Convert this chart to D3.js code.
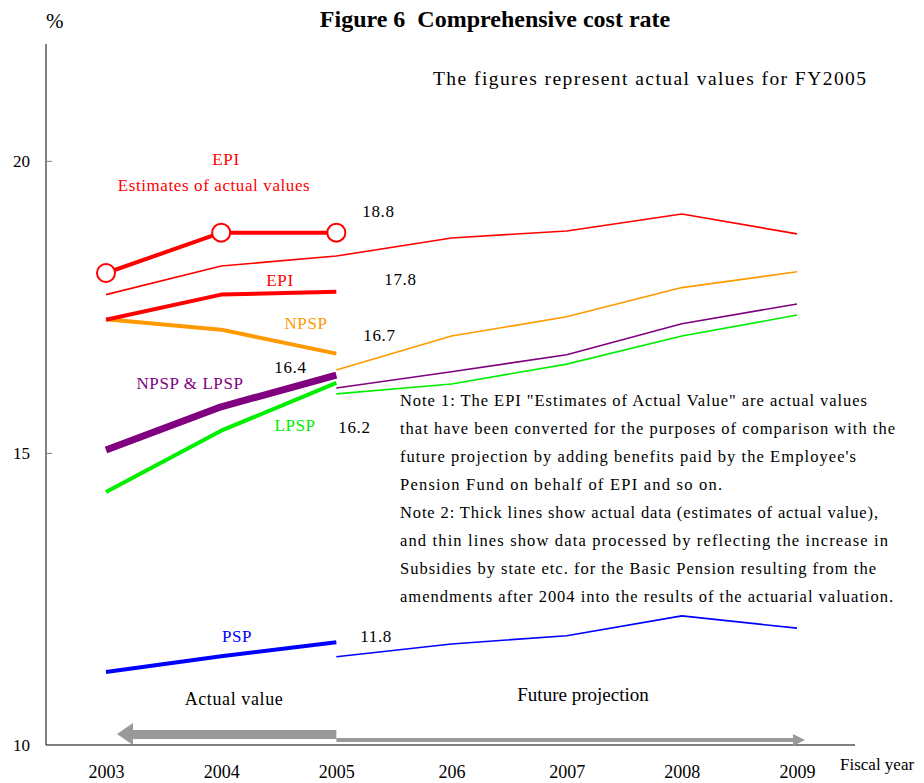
<!DOCTYPE html>
<html>
<head>
<meta charset="utf-8">
<script src="https://cdn.jsdelivr.net/npm/d3@7"></script>
<style>
  body { margin: 0; background: #fff; }
  text { font-family: 'Liberation Serif', serif; }
</style>
</head>
<body>
<div class="canvas"></div>
<script>
// categories (the "206" label is as printed in the source)
const years = ["2003", "2004", "2005", "206", "2007", "2008", "2009"];
const yTicks = [10, 15, 20];

// thick lines: actual data 2003-2005
const epiEstimate = [18.08, 18.77, 18.77];
const epiActual = [17.28, 17.71, 17.76];
const npspActual = [17.29, 17.11, 16.70];
const npspLpspActual = [15.05, 15.79, 16.33];
const lpspActual = [14.33, 15.38, 16.20];
const pspActual = [11.25, 11.52, 11.76];

// thin lines: processed / projection
const epiProj = [17.71, 18.20, 18.37, 18.68, 18.80, 19.09, 18.75];   // 2003-2009
const npspProj = [16.42, 17.00, 17.33, 17.83, 18.10];               // 2005-2009
const npspLpspProj = [16.11, 16.39, 16.68, 17.21, 17.55];
const lpspProj = [16.01, 16.18, 16.52, 17.00, 17.36];
const pspProj = [11.51, 11.73, 11.87, 12.21, 12.00];

const valueLabels = ["18.8", "17.8", "16.7", "16.4", "16.2", "11.8"];

const notes = [
  "Note 1: The EPI \"Estimates of Actual Value\" are actual values",
  "that have been converted for the purposes of comparison with the",
  "future projection by adding benefits paid by the Employee's",
  "Pension Fund on behalf of EPI and so on.",
  "Note 2: Thick lines show actual data (estimates of actual value),",
  "and thin lines show data processed by reflecting the increase in",
  "Subsidies by state etc. for the Basic Pension resulting from the",
  "amendments after 2004 into the results of the actuarial valuation."
];

const FONT = 'Liberation Serif';
const width = 924, height = 783;
const svg = d3.select('.canvas').append('svg')
    .attr('width', width)
    .attr('height', height)
    .attr('font-family', FONT);

const x = d3.scalePoint().domain(years).range([106, 797]);
const y = d3.scaleLinear().domain([10, 22]).range([745, 44]);

// axes
svg.append('line')
  .attr('x1', 46).attr('x2', 46)
  .attr('y1', y(22)).attr('y2', y(10))
  .attr('stroke', '#808080').attr('stroke-width', 2);

const yAxis = svg.append('g')
  .attr('transform', 'translate(46,0)')
  .call(d3.axisLeft(y).tickValues(yTicks).tickSizeInner(-6).tickSizeOuter(0).tickPadding(16));
yAxis.attr('font-family', FONT);
yAxis.select('.domain').remove();
yAxis.selectAll('line').attr('stroke', '#808080');
yAxis.selectAll('text').attr('font-size', 17).attr('fill', '#000');
yAxis.selectAll('.tick').filter(d => d === 10).select('line').remove();

svg.append('line')
  .attr('x1', 46).attr('x2', 855)
  .attr('y1', y(10)).attr('y2', y(10))
  .attr('stroke', '#000').attr('stroke-width', 1.2);

const xAxis = svg.append('g')
  .attr('transform', `translate(0,${y(10)})`)
  .call(d3.axisBottom(x).tickSize(0).tickPadding(20));
xAxis.attr('font-family', FONT);
xAxis.select('.domain').remove();
xAxis.selectAll('text').attr('font-size', 18).attr('fill', '#000');

svg.append('text').attr('x', 46).attr('y', 28).attr('font-size', 21).text('%');
svg.append('text').attr('x', 840).attr('y', 770).attr('font-size', 17).text('Fiscal year');

// titles
svg.append('text').attr('x', 495).attr('y', 27)
  .attr('text-anchor', 'middle')
  .attr('font-size', 24).attr('font-weight', 'bold')
  .attr('xml:space', 'preserve')
  .text('Figure 6  Comprehensive cost rate');
svg.append('text').attr('x', 433).attr('y', 85)
  .attr('font-size', 19.5)
  .attr('textLength', 433).attr('lengthAdjust', 'spacing')
  .text('The figures represent actual values for FY2005');

// arrows (actual / future)
const arrowY = y(10) - 11;
svg.append('rect')
  .attr('x', x('2003') + 24).attr('y', arrowY - 4)
  .attr('width', x('2005') - x('2003') - 24).attr('height', 9)
  .attr('fill', '#999');
svg.append('path')
  .attr('d', `M${x('2003') + 11},${arrowY} L${x('2003') + 27},${arrowY - 11} L${x('2003') + 27},${arrowY + 11} Z`)
  .attr('fill', '#999');
svg.append('rect')
  .attr('x', x('2005')).attr('y', y(10) - 7)
  .attr('width', x('2009') - x('2005') - 4).attr('height', 4)
  .attr('fill', '#999');
svg.append('path')
  .attr('d', `M${x('2009') + 8},${y(10) - 5} L${x('2009') - 4},${y(10) - 11} L${x('2009') - 4},${y(10) + 1} Z`)
  .attr('fill', '#999');

svg.append('text').attr('x', 234).attr('y', 705).attr('text-anchor', 'middle')
  .attr('font-size', 18).attr('letter-spacing', 0.6).text('Actual value');
svg.append('text').attr('x', 583).attr('y', 701).attr('text-anchor', 'middle')
  .attr('font-size', 19).text('Future projection');

// lines
const line = d3.line().x(d => x(d.year)).y(d => y(d.value));
function toPoints(values, startYear) {
  const start = years.indexOf(startYear);
  return values.map((v, i) => ({ year: years[start + i], value: v }));
}
function drawLine(values, startYear, color, w) {
  svg.append('path')
    .datum(toPoints(values, startYear))
    .attr('d', line)
    .attr('fill', 'none')
    .attr('stroke', color)
    .attr('stroke-width', w)
    .attr('stroke-linejoin', 'round');
}

// thin projection lines
drawLine(epiProj, '2003', '#ff0000', 1.6);
drawLine(npspProj, '2005', '#ff9900', 1.6);
drawLine(npspLpspProj, '2005', '#800080', 1.6);
drawLine(lpspProj, '2005', '#00ee00', 1.6);
drawLine(pspProj, '2005', '#0000ff', 1.6);

// thick actual lines
drawLine(npspActual, '2003', '#ff9900', 4);
drawLine(epiActual, '2003', '#ff0000', 4);
drawLine(lpspActual, '2003', '#00ee00', 4);
drawLine(npspLpspActual, '2003', '#800080', 7);
drawLine(pspActual, '2003', '#0000ff', 4);
drawLine(epiEstimate, '2003', '#ff0000', 4);

svg.selectAll('circle.est')
  .data(toPoints(epiEstimate, '2003'))
  .join('circle')
  .attr('class', 'est')
  .attr('cx', d => x(d.year))
  .attr('cy', d => y(d.value))
  .attr('r', 9)
  .attr('fill', '#fff')
  .attr('stroke', '#ff0000')
  .attr('stroke-width', 2);

// series labels
const seriesText = [
  { t: 'EPI', x: 226, y: 165, c: '#ff0000' },
  { t: 'Estimates of actual values', x: 214, y: 191, c: '#ff0000' },
  { t: 'EPI', x: 280, y: 286, c: '#ff0000' },
  { t: 'NPSP', x: 306, y: 329, c: '#ff9900' },
  { t: 'NPSP & LPSP', x: 190, y: 389, c: '#800080' },
  { t: 'LPSP', x: 295, y: 431, c: '#00ee00' },
  { t: 'PSP', x: 237, y: 642, c: '#0000ff' }
];
svg.selectAll('text.series')
  .data(seriesText)
  .join('text')
  .attr('class', 'series')
  .attr('x', d => d.x).attr('y', d => d.y)
  .attr('text-anchor', 'middle')
  .attr('font-size', 17)
  .attr('letter-spacing', 0.6)
  .attr('fill', d => d.c)
  .text(d => d.t);

// value labels at 2005
const valuePos = [
  { dx: 26, y: 217 }, { dx: 48, y: 285 }, { dx: 27, y: 341 },
  { dx: -62, y: 373 }, { dx: 2, y: 433 }, { dx: 24, y: 642 }
];
svg.selectAll('text.val')
  .data(valueLabels)
  .join('text')
  .attr('class', 'val')
  .attr('x', (d, i) => x('2005') + valuePos[i].dx)
  .attr('y', (d, i) => valuePos[i].y)
  .attr('font-size', 17)
  .attr('letter-spacing', 0.6)
  .text(d => d);

// notes
const noteWidths = [467, 495, 456, 322, 478, 488, 476, 493];
svg.selectAll('text.note')
  .data(notes)
  .join('text')
  .attr('class', 'note')
  .attr('x', 400)
  .attr('y', (d, i) => 406 + i * 28)
  .attr('font-size', 16.5)
  .attr('textLength', (d, i) => noteWidths[i])
  .attr('lengthAdjust', 'spacing')
  .text(d => d);
</script>
</body>
</html>
